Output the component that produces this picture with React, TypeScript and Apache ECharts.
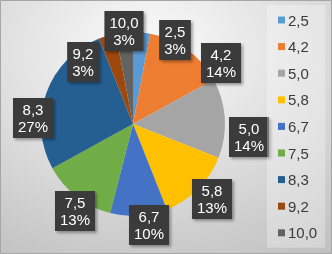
import React, { useEffect, useRef } from "react";
import * as echarts from "echarts";

const categories = ["2,5", "4,2", "5,0", "5,8", "6,7", "7,5", "8,3", "9,2", "10,0"];
const values = [3, 14, 14, 13, 10, 13, 27, 3, 3];
const colors = ["#5B9BD5", "#ED7D31", "#A5A5A5", "#FFC000", "#4472C4", "#70AD47", "#255E91", "#9E480E", "#636363"];
// label offsets from the pie centre (style only)
const labelOffsets: [number, number][] = [
  [42, -84], [88, -61], [116, 13], [79, 75], [16, 101], [-58, 87], [-100, -6], [-50, -62], [-9, -93],
];

export default function App() {
  const ref = useRef<HTMLDivElement>(null);
  useEffect(() => {
    if (!ref.current) return;
    const chart = echarts.init(ref.current, undefined, { renderer: "svg" });
    chart.setOption({
      animation: false,
      backgroundColor: new echarts.graphic.RadialGradient(0.45, 0.2, 1.0, [
        { offset: 0, color: "#fcfcfc" },
        { offset: 1, color: "#bdbdbd" },
      ]),
      color: colors,
      graphic: [
        {
          type: "rect",
          shape: { x: 0.5, y: 0.5, width: 331, height: 253 },
          style: { fill: "none", stroke: "#a6a6a6", lineWidth: 1 },
          silent: true,
          z: 100,
        },
      ],
      legend: {
        orient: "vertical",
        left: 267,
        top: 5,
        padding: [7, 8, 7, 11],
        backgroundColor: "rgba(255,255,255,0.3)",
        icon: "rect",
        itemWidth: 7,
        itemHeight: 7,
        itemGap: 10.6,
        textStyle: {
          fontFamily: "Liberation Sans",
          fontSize: 15,
          lineHeight: 16,
          color: "#3a3a3a",
          padding: [0, 0, 0, -2],
        },
        data: categories,
      },
      series: [
        {
          type: "pie",
          center: [133, 124],
          radius: 92,
          startAngle: 90,
          clockwise: true,
          avoidLabelOverlap: false,
          data: categories.map((name, i) => ({ name, value: values[i] })),
          itemStyle: { borderWidth: 0 },
          label: {
            show: true,
            position: "center",
            formatter: (p: any) => `${p.name}\n${Math.round(p.percent)}%`,
            fontFamily: "Liberation Sans",
            fontSize: 15,
            lineHeight: 17,
            color: "#ffffff",
            backgroundColor: "#3b3b3b",
            padding: [3, 5],
            shadowColor: "rgba(0,0,0,0.35)",
            shadowBlur: 3,
            shadowOffsetX: 2,
            shadowOffsetY: 2,
            align: "center",
          },
          labelLine: { show: false },
          labelLayout: (params: any) => ({
            dx: labelOffsets[params.dataIndex][0],
            dy: labelOffsets[params.dataIndex][1],
          }),
          emphasis: { disabled: true },
        },
      ],
    });
    return () => chart.dispose();
  }, []);
  return (
    <div
      ref={ref}
      style={{ position: "fixed", left: 0, top: 0, width: 332, height: 254 }}
    />
  );
}
